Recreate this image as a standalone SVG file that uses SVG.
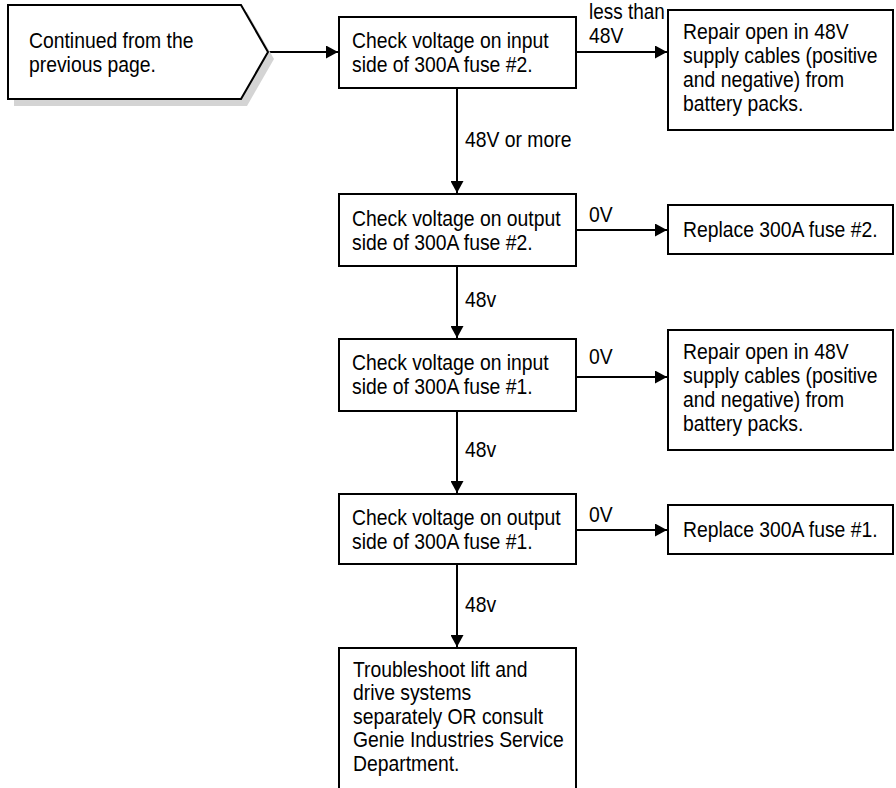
<svg xmlns="http://www.w3.org/2000/svg" width="896" height="788" viewBox="0 0 896 788">
<style>
.box{fill:#fff;stroke:#000;stroke-width:2}
.shadow{fill:#d4d4d4;stroke:none}
.t{font-family:"Liberation Sans",Arial,sans-serif;font-size:21.5px;fill:#000}
.c{fill:none;stroke:#000;stroke-width:2}
</style>
<defs>
<marker id="ah" markerUnits="userSpaceOnUse" markerWidth="13" markerHeight="13" refX="12" refY="6.5" orient="auto">
<path d="M0,0 L12,6.5 L0,13 z" fill="#000"/>
</marker>
</defs>
<rect width="896" height="788" fill="#fff"/>
<g id="connectors">
<line class="c" x1="268" y1="52" x2="338" y2="52" marker-end="url(#ah)"/>
<line class="c" x1="576" y1="52" x2="667" y2="52" marker-end="url(#ah)"/>
<line class="c" x1="457" y1="88" x2="457" y2="193" marker-end="url(#ah)"/>
<line class="c" x1="576" y1="230" x2="667" y2="230" marker-end="url(#ah)"/>
<line class="c" x1="457" y1="266" x2="457" y2="338" marker-end="url(#ah)"/>
<line class="c" x1="576" y1="377" x2="667" y2="377" marker-end="url(#ah)"/>
<line class="c" x1="457" y1="411" x2="457" y2="493" marker-end="url(#ah)"/>
<line class="c" x1="576" y1="530" x2="667" y2="530" marker-end="url(#ah)"/>
<line class="c" x1="457" y1="564" x2="457" y2="647" marker-end="url(#ah)"/>
<text class="t" transform="translate(589,19) scale(0.88,1)">less than</text>
<text class="t" transform="translate(589,43) scale(0.9,1)">48V</text>
<text class="t" transform="translate(465,147) scale(0.9,1)">48V or more</text>
<text class="t" transform="translate(589,222) scale(0.9,1)">0V</text>
<text class="t" transform="translate(465,307) scale(0.9,1)">48v</text>
<text class="t" transform="translate(589,364) scale(0.9,1)">0V</text>
<text class="t" transform="translate(465,457) scale(0.9,1)">48v</text>
<text class="t" transform="translate(589,522) scale(0.9,1)">0V</text>
<text class="t" transform="translate(465,612) scale(0.9,1)">48v</text>
</g>
<g id="start">
<polygon class="shadow" points="14,12 247,12 274,59 247,106 14,106"/>
<polygon class="box" points="8,5 241,5 268,52 241,99 8,99"/>
<text class="t" transform="translate(29,48) scale(0.9,1)"><tspan x="0" y="0">Continued from the</tspan><tspan x="0" y="24">previous page.</tspan></text>
</g>
<g id="check-input-2">
<rect class="box" x="339" y="17" width="237" height="71"/>
<text class="t" transform="translate(352,48) scale(0.9,1)"><tspan x="0" y="0">Check voltage on input</tspan><tspan x="0" y="24">side of 300A fuse #2.</tspan></text>
</g>
<g id="repair-1">
<rect class="box" x="668" y="10" width="225" height="120"/>
<text class="t" transform="translate(683,39) scale(0.9,1)"><tspan x="0" y="0">Repair open in 48V</tspan><tspan x="0" y="24">supply cables (positive</tspan><tspan x="0" y="48">and negative) from</tspan><tspan x="0" y="72">battery packs.</tspan></text>
</g>
<g id="check-output-2">
<rect class="box" x="339" y="194" width="237" height="72"/>
<text class="t" transform="translate(352,226) scale(0.9,1)"><tspan x="0" y="0">Check voltage on output</tspan><tspan x="0" y="24">side of 300A fuse #2.</tspan></text>
</g>
<g id="replace-2">
<rect class="box" x="668" y="205" width="225" height="49"/>
<text class="t" transform="translate(683,237) scale(0.9,1)">Replace 300A fuse #2.</text>
</g>
<g id="check-input-1">
<rect class="box" x="339" y="339" width="237" height="72"/>
<text class="t" transform="translate(352,370) scale(0.9,1)"><tspan x="0" y="0">Check voltage on input</tspan><tspan x="0" y="24">side of 300A fuse #1.</tspan></text>
</g>
<g id="repair-2">
<rect class="box" x="668" y="330" width="225" height="120"/>
<text class="t" transform="translate(683,359) scale(0.9,1)"><tspan x="0" y="0">Repair open in 48V</tspan><tspan x="0" y="24">supply cables (positive</tspan><tspan x="0" y="48">and negative) from</tspan><tspan x="0" y="72">battery packs.</tspan></text>
</g>
<g id="check-output-1">
<rect class="box" x="339" y="494" width="237" height="70"/>
<text class="t" transform="translate(352,525) scale(0.9,1)"><tspan x="0" y="0">Check voltage on output</tspan><tspan x="0" y="24">side of 300A fuse #1.</tspan></text>
</g>
<g id="replace-1">
<rect class="box" x="668" y="505" width="225" height="49"/>
<text class="t" transform="translate(683,537) scale(0.9,1)">Replace 300A fuse #1.</text>
</g>
<g id="troubleshoot">
<rect class="box" x="339" y="648" width="237" height="150"/>
<text class="t" transform="translate(353,677) scale(0.9,1)"><tspan x="0" y="0">Troubleshoot lift and</tspan><tspan x="0" y="23.5">drive systems</tspan><tspan x="0" y="47">separately OR consult</tspan><tspan x="0" y="70.5">Genie Industries Service</tspan><tspan x="0" y="94">Department.</tspan></text>
</g>
</svg>
